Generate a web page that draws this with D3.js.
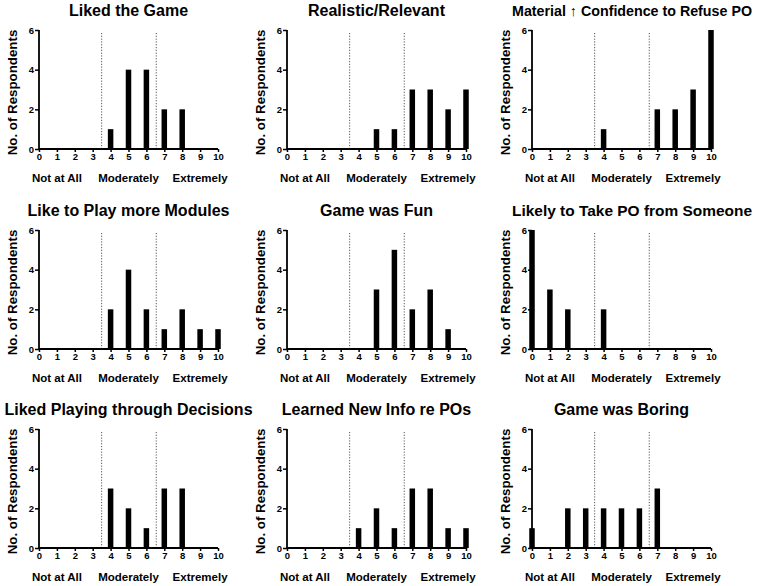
<!DOCTYPE html>
<html>
<head>
<meta charset="utf-8">
<script src="https://cdn.jsdelivr.net/npm/d3@7"></script>
<style>
  body { margin: 0; background: #fff; }
  text { font-family: "Liberation Sans", Arial, sans-serif; font-weight: bold; }
</style>
</head>
<body>
<div id="chart"></div>
<script>
// scores 0..10, number of respondents per score
var scores = [0, 1, 2, 3, 4, 5, 6, 7, 8, 9, 10];
var yTicks = [0, 2, 4, 6];
var anchorLabels = ["Not at All", "Moderately", "Extremely"];
var anchorScores = [1, 5, 9];
var cutoffs = [3.5, 6.55];

var titles = [
  "Liked the Game", "Realistic/Relevant", "Material \u2191 Confidence to Refuse PO",
  "Like to Play more Modules", "Game was Fun", "Likely to Take PO from Someone",
  "Liked Playing through Decisions", "Learned New Info re POs", "Game was Boring"
];

var likedGame      = [0, 0, 0, 0, 1, 4, 4, 2, 2, 0, 0];
var realistic      = [0, 0, 0, 0, 0, 1, 1, 3, 3, 2, 3];
var confidence     = [0, 0, 0, 0, 1, 0, 0, 2, 2, 3, 6];
var moreModules    = [0, 0, 0, 0, 2, 4, 2, 1, 2, 1, 1];
var gameFun        = [0, 0, 0, 0, 0, 3, 5, 2, 3, 1, 0];
var takePO         = [6, 3, 2, 0, 2, 0, 0, 0, 0, 0, 0];
var likedDecisions = [0, 0, 0, 0, 3, 2, 1, 3, 3, 0, 0];
var learnedInfo    = [0, 0, 0, 0, 1, 2, 1, 3, 3, 1, 1];
var gameBoring     = [1, 0, 2, 2, 2, 2, 2, 3, 0, 0, 0];

var series = [likedGame, realistic, confidence, moreModules, gameFun,
              takePO, likedDecisions, learnedInfo, gameBoring];

// layout of the 3x3 grid
var colLeft = [39, 287, 532],
    rowTop = [30, 230, 429],
    width = 179,
    height = 119,
    barWidth = 5.5;

var svg = d3.select("#chart").append("svg")
    .attr("width", 760)
    .attr("height", 586);

series.forEach(function(values, k) {
  var col = k % 3, row = Math.floor(k / 3);

  var x = d3.scaleLinear().domain([0, 10]).range([0, width]);
  var y = d3.scaleLinear().domain([0, 6]).range([height, 0]);

  var g = svg.append("g")
      .attr("transform", "translate(" + colLeft[col] + "," + rowTop[row] + ")");

  // title (long titles in the right column are squeezed into 512..752)
  var title = g.append("text")
      .attr("x", width / 2)
      .attr("y", -14)
      .attr("text-anchor", "middle")
      .style("font-size", "16px")
      .text(titles[k]);
  if (col == 2) {
    var tw = title.node().getComputedTextLength();
    if (tw > 240) {
      title.style("font-size", (16 * 240 / tw) + "px")
          .attr("x", 512 + 120 - colLeft[col]);
    }
  }

  // y label
  g.append("text")
      .attr("transform", "translate(-22," + (height / 2 + 3) + ") rotate(-90)")
      .attr("text-anchor", "middle")
      .style("font-size", "13.3px")
      .text("No. of Respondents");

  // dotted cut-off lines
  g.selectAll(".cut")
      .data(cutoffs)
    .enter().append("line")
      .attr("x1", function(d) { return x(d); })
      .attr("x2", function(d) { return x(d); })
      .attr("y1", y(5.85))
      .attr("y2", y(0))
      .attr("stroke", "#555")
      .attr("stroke-width", 1)
      .attr("stroke-dasharray", "1.2,1.6");

  // bars
  g.selectAll(".bar")
      .data(scores.map(function(s, i) { return {s: s, v: values[i]}; }).filter(function(d) { return d.v > 0; }))
    .enter().append("rect")
      .attr("x", function(d) { return x(d.s) - barWidth / 2; })
      .attr("width", barWidth)
      .attr("y", function(d) { return y(d.v); })
      .attr("height", function(d) { return y(0) - y(d.v); })
      .attr("fill", "#000");

  // axes
  var xAxis = g.append("g")
      .attr("transform", "translate(0," + height + ")")
      .call(d3.axisBottom(x).tickValues(scores).tickSize(3).tickPadding(1).tickFormat(d3.format("d")));
  var yAxis = g.append("g")
      .call(d3.axisLeft(y).tickValues(yTicks).tickSize(4).tickPadding(1).tickFormat(d3.format("d")));

  [xAxis, yAxis].forEach(function(a) {
    a.select(".domain").attr("stroke", "#000").attr("stroke-width", 1.8);
    a.selectAll(".tick line").attr("stroke", "#000").attr("stroke-width", 1.5);
    a.selectAll(".tick text")
        .attr("fill", "#000")
        .style("font-family", "'Liberation Sans', Arial, sans-serif")
        .style("font-weight", "bold")
        .style("font-size", "9.5px");
  });
  xAxis.select(".domain").attr("d", "M0,0H" + width);
  yAxis.select(".domain").attr("d", "M0,0V" + height);

  // anchor labels under the axis
  g.selectAll(".anchor")
      .data(anchorLabels)
    .enter().append("text")
      .attr("x", function(d, i) { return x(anchorScores[i]); })
      .attr("y", height + 33)
      .attr("text-anchor", "middle")
      .style("font-size", "11.5px")
      .text(function(d) { return d; });
});
</script>
</body>
</html>
